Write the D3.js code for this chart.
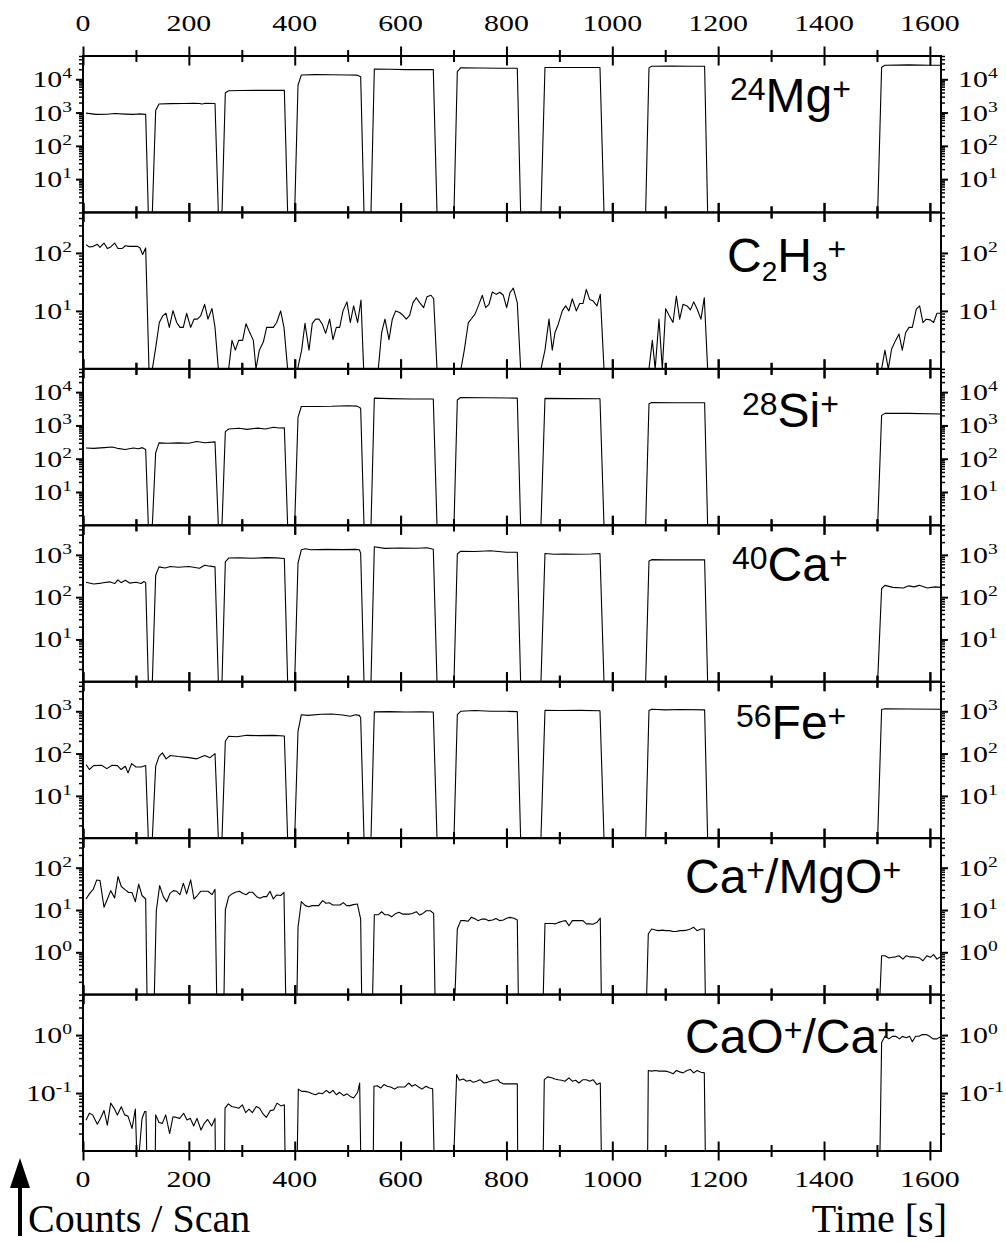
<!DOCTYPE html>
<html lang="en">
<head>
<meta charset="UTF-8">
<title>Counts / Scan vs Time</title>
<script src="https://d3js.org/d3.v7.min.js"></script>
<style>
  body { margin: 0; background: #fff; }
  svg { display: block; }
  .tick-label { font-family: "Liberation Serif", "Times New Roman", serif; font-size: 23px; fill: #000; }
  .species { font-family: "Liberation Sans", Arial, sans-serif; font-size: 48px; fill: #000; }
  .axis-title { font-family: "Liberation Serif", "Times New Roman", serif; font-size: 40px; fill: #000; }
  .axis path { display: none; }
  .axis line { stroke: #000; }
</style>
</head>
<body>
<svg id="chart" width="1006" height="1242"></svg>
<script>
// ---- data: [time s, counts per scan]; 0 = below the axis range ----
const mg24 = [[5.7,960],[25,880],[45,890],[60,940],[80,900],[95,880],[105,910],[118.4,880],[123.4,0],
  [131,0],[137.3,1150],[143.6,1800],[165,1850],[190,1870],[210,1900],[220,1880],[225,1800],[232,1900],[249.4,1880],[255.7,0],
  [262.6,0],[268.9,3950],[275.2,4500],[300,4600],[330,4650],[360,4650],[380.4,4650],[386.6,0],
  [399.9,0],[406.2,6600],[412.5,13500],[440,13800],[470,13700],[500,13500],[518,13300],[524.6,12000],[530.9,0],
  [544.1,0],[550.4,20200],[580,20000],[610,19500],[640,19500],[661.8,19500],[668.8,0],
  [700.9,0],[707.2,17000],[713.5,22000],[750,21800],[790,21500],[820.5,21500],[826.8,0],
  [865.2,0],[872.8,22500],[900,22500],[940,22500],[976.7,22500],[984.3,0],
  [1063,0],[1069.3,22000],[1074.3,24500],[1110,24800],[1150,24500],[1174.4,24500],[1180.1,0],
  [1501.3,0],[1508.8,23000],[1515.1,26500],[1560,27000],[1600,26500],[1620,26500]];

const c2h3 = [[5.7,139],[12,127],[19.5,130],[27.1,141],[32.1,125],[39.7,148],[46,119],[52.3,127],[59.8,148],[66.1,119],[73.7,119],[80,133],[87.5,130],[95.1,130],[102.6,130],[107.7,122],[112.7,94],[118.4,122],[124.7,0],
  [131,0],[137.9,2.5],[144.2,6.3],[150.5,8.2],[156.8,9.1],[163.1,5.2],[170,10.1],[177,6.3],[183.2,5.2],[189.5,5.2],[195.8,9.1],[203.4,5.2],[209.7,7.2],[216,7.2],[222.3,8.2],[229.8,13],[236.1,7.2],[243.7,11],[249.4,5.2],[255.7,0],
  [275.2,0],[281.5,3.1],[287.8,2.1],[294.1,3.1],[301.6,3.1],[307.9,6.0],[314.2,4.4],[321.8,3.1],[326.8,0],[333.1,2.1],[340.7,2.9],[347,5.2],[353.3,5.2],[359.6,5.2],[365.9,6.3],[373.4,10],[379.7,5.2],[386.6,0],
  [405.5,0],[413.1,2.1],[419.4,6.1],[427,2.1],[433.2,6.1],[439.5,7.2],[445.8,7.2],[452.1,5.9],[458.4,4.1],[466,7.2],[472.3,3.2],[478.6,5.2],[484.9,5.2],[491.2,10],[498.7,14.3],[505,6.3],[511.3,12.2],[518.9,6.3],[525.2,15.4],[530.2,0],
  [557.9,0],[564.2,4.2],[570.5,7.2],[578.1,3.2],[584.4,7.2],[590.7,10],[598.2,9.4],[604.5,8.4],[610.8,7.2],[617.1,8.4],[623.4,13.9],[629.7,16.9],[636,13.9],[643.6,11.4],[649.9,17.6],[657.4,18.6],[662.5,16.2],[668.8,0],
  [714.1,0],[720.4,2.1],[728,6.3],[734.3,7.4],[740.6,8.8],[746.9,12.2],[754.4,18.6],[760.7,11.4],[767,13],[773.3,21.2],[780.9,19.3],[787.8,21],[794.1,18.6],[800.4,11.4],[806.7,20.6],[813,24.7],[820.5,13.9],[826.8,0],
  [865.2,0],[872.8,2.1],[880.4,7.2],[886.6,2.1],[891.6,4.2],[897.9,5.9],[905.5,10],[911.8,12.2],[918.1,10],[924.4,16.2],[932,10],[938.3,13.4],[944.6,13.4],[950.9,23.5],[957.2,15.8],[963.5,14.9],[971,12.2],[977.3,19.3],[984.3,0],
  [1069.3,0],[1075.6,3.1],[1081,0],[1088.2,7.2],[1094.5,0],[1100.8,10.9],[1107.1,8.4],[1114.7,6.3],[1121,18.1],[1127.3,7.2],[1133.6,13],[1141.2,12.2],[1147.5,10.4],[1153.8,14.3],[1160.1,10.9],[1167.5,7.2],[1173.8,16.9],[1180.1,0],
  [1508.8,0],[1515.1,2.1],[1521.4,0],[1527.7,2.2],[1535.3,3.1],[1541.6,4.0],[1547.9,2.1],[1554.2,4.2],[1560.5,5.2],[1566.8,5.2],[1574.3,10.7],[1580.6,12.2],[1586.9,6.3],[1593.2,7.2],[1600.8,7.0],[1607,6.3],[1613.4,9.1],[1619.6,9.1]];

const si28 = [[5.7,210],[20,205],[40,215],[55,225],[65,205],[80,190],[95,210],[105,200],[112,215],[118.4,190],[123.4,0],
  [131,0],[137.3,150],[143.6,300],[160,290],[180,300],[200,290],[215,330],[230,300],[249.4,320],[255.7,0],
  [262.6,0],[268.9,650],[275.2,780],[295,820],[310,760],[330,830],[345,780],[360,880],[370,840],[380.4,850],[386.6,0],
  [399.9,0],[406.2,1750],[412.5,3700],[440,3700],[470,3750],[500,3900],[518,3800],[524.6,3300],[530.9,0],
  [544.1,0],[550.4,6600],[580,6400],[620,6200],[661.8,6200],[668.8,0],
  [700.9,0],[707.2,5800],[713.5,6900],[760,6800],[820.5,6600],[826.8,0],
  [865.2,0],[872.8,6500],[920,6400],[976.7,6300],[984.3,0],
  [1063,0],[1069.3,4500],[1074.3,4900],[1120,4800],[1174.4,4800],[1180.1,0],
  [1501.3,0],[1508.8,2000],[1515.1,2300],[1560,2300],[1620,2200]];

const ca40 = [[5.7,225],[20,205],[35,215],[50,230],[60,210],[66,255],[72,220],[80,250],[88,215],[100,225],[110,210],[115,235],[118.4,220],[123.4,0],
  [131,0],[137.3,330],[143.6,520],[155,490],[165,530],[180,510],[200,530],[220,480],[230,570],[240,540],[249.4,520],[255.7,0],
  [262.6,0],[268.9,680],[275.2,840],[295,850],[320,830],[345,860],[365,850],[380.4,820],[386.6,0],
  [399.9,0],[406.2,640],[412.5,1320],[420,1400],[430,1320],[460,1350],[490,1330],[515,1350],[522,1320],[524.6,1100],[530.9,0],
  [544.1,0],[550.4,1560],[570,1420],[600,1450],[630,1430],[650,1470],[661.8,1350],[668.8,0],
  [700.9,0],[707.2,1050],[713.5,1220],[740,1200],[770,1250],[800,1150],[820.5,1150],[826.8,0],
  [865.2,0],[872.8,1080],[890,1030],[910,1050],[930,1030],[960,1050],[976.7,1080],[984.3,0],
  [1063,0],[1069.3,720],[1074.3,770],[1100,760],[1130,760],[1174.4,760],[1180.1,0],
  [1501.3,0],[1508.8,160],[1515.1,190],[1530,170],[1550,165],[1560,185],[1570,175],[1580,190],[1595,165],[1610,175],[1620,170]];

const fe56 = [[5.7,55],[12,42],[20,52],[35,53],[45,44],[55,53],[65,52],[72,42],[80,50],[85,35],[92,58],[100,48],[110,48],[118.4,52],[123.4,0],
  [131,0],[137.3,50],[143.6,86],[150,104],[157,75],[165,90],[180,85],[200,80],[215,75],[230,90],[240,80],[249.4,100],[255.7,0],
  [262.6,0],[268.9,195],[275.2,256],[290,250],[310,270],[330,265],[360,270],[380.4,260],[386.6,0],
  [399.9,0],[406.2,336],[412.5,830],[425,800],[450,850],[470,860],[490,820],[505,760],[515,830],[522,800],[524.6,700],[530.9,0],
  [544.1,0],[550.4,970],[580,980],[610,960],[640,970],[661.8,960],[668.8,0],
  [700.9,0],[707.2,830],[713.5,1000],[740,1040],[770,1000],[800,1000],[820.5,980],[826.8,0],
  [865.2,0],[872.8,1050],[900,1040],[940,1050],[976.7,1030],[984.3,0],
  [1063,0],[1069.3,1050],[1074.3,1120],[1100,1080],[1130,1100],[1174.4,1080],[1180.1,0],
  [1501.3,0],[1508.8,1100],[1515.1,1150],[1560,1130],[1620,1120]];

const caMgO = [[5.7,18.2],[12,24],[19.5,31],[25.8,51],[32.1,50],[39.7,11.6],[46,18],[52.3,28.7],[59.8,19.3],[66.1,62],[72.4,36],[80,30],[86.3,26],[92.6,26],[98.9,15.8],[105.2,41],[111.5,22],[118.4,18.2],[120.9,0],
  [134.8,0],[138.5,9.6],[144.8,37.8],[151.8,20.7],[158.1,15.7],[164.4,24.8],[170.7,28.7],[177,27.7],[183.2,23.1],[189.5,43],[195.8,24],[203.4,51.5],[209.7,18.2],[216,22],[222.3,27.7],[229.8,27.7],[236.1,27.7],[243.7,23],[249.4,31],[252.5,0],
  [266.4,0],[268.9,10],[275.2,20.7],[281.5,24],[287.8,26.2],[295.3,27.7],[301.6,24.8],[307.9,23],[314.2,26.2],[320.5,26.2],[328.1,20.7],[334.4,18.9],[340.7,20.7],[347,20.7],[353.3,27.7],[359.6,18.2],[365.9,22.7],[373.4,22],[379.7,26.2],[382.9,0],
  [404.3,0],[406.2,3.9],[412.5,15.8],[420,12.7],[426.3,12],[432.6,12.7],[438.9,12.7],[445.2,12.7],[452.8,16.6],[459.1,14.4],[465.4,14.9],[471.7,13.1],[478,13.1],[485.5,13.1],[491.8,14.9],[498.1,12.7],[504.4,12.7],[510.7,13.4],[518.3,13.9],[524.6,6.1],[526.4,0],
  [547.2,0],[550.4,7.7],[557.9,7.7],[564.2,9.1],[570.5,7.7],[576.8,7.7],[583.1,6.9],[589.4,8],[597,8.8],[603.3,8],[609.6,8],[615.9,8],[622.2,8.3],[629.7,9.1],[636,7.6],[642.3,8.3],[648.6,9.6],[656.2,9.6],[662.5,8.3],[665,0],
  [702.8,0],[707.2,3.55],[713.5,5.6],[721,5.6],[727.3,5.4],[733.6,6.7],[739.9,6.3],[746.2,5.6],[753.8,6.1],[760.1,6.1],[766.4,5.6],[773.9,5.8],[780.2,6.3],[787.8,5.6],[794.1,5.8],[800.4,6.4],[806.7,6.7],[814.2,6.4],[820.5,5.8],[822.4,0],
  [869.6,0],[872.8,4.8],[880.4,4.8],[886.6,4.8],[892.9,4.7],[899.2,5.1],[905.5,5.4],[911.8,5.6],[918.1,4.25],[924.4,5.6],[932,5.6],[938.3,5.6],[944.6,5.6],[950.9,4.7],[957.2,4.7],[963.5,4.6],[971,5.1],[977.3,6.4],[979.2,0],
  [1064.9,0],[1068,2.7],[1074.3,3.55],[1081.9,3.35],[1088.2,3.25],[1094.5,3.35],[1100.8,3.25],[1108.4,3.25],[1114.7,3.1],[1121,3.1],[1127.3,3.25],[1133.6,3.25],[1141.2,3.35],[1147.5,3.55],[1153.8,3.9],[1160.1,3.25],[1167.5,3.55],[1173.8,3.55],[1175.7,0],
  [1505.7,0],[1508.8,0.83],[1515.1,0.83],[1522.7,0.73],[1529,0.76],[1535.3,0.78],[1541.6,0.83],[1549.1,0.69],[1555.4,0.83],[1561.7,0.78],[1568,0.78],[1574.3,0.76],[1580.6,0.73],[1586.9,0.63],[1594.5,0.83],[1600.8,0.76],[1607,0.88],[1613.4,0.69],[1619.6,0.78]];

const caoCa = [[5.7,0.034],[12,0.045],[18.3,0.042],[27.1,0.029],[33.4,0.037],[39.7,0.05],[46,0.028],[52.3,0.067],[58.6,0.055],[64.9,0.042],[72.4,0.058],[78.7,0.042],[85,0.04],[92.6,0.0245],[98.9,0.053],[101.4,0],[106.4,0],[111.5,0.036],[116.5,0.048],[119,0.048],[120.3,0],
  [136.6,0],[137.3,0.042],[143.6,0.031],[149.9,0.03],[156.2,0.042],[163.7,0.02],[170,0.039],[176.3,0.038],[182.6,0.0366],[190.2,0.0448],[196.5,0.0343],[202.8,0.0366],[209.1,0.027],[215.4,0.0366],[222.9,0.023],[229.2,0.03],[235.5,0.035],[243.1,0.027],[249.4,0.0366],[250,0],
  [267.6,0],[268.3,0.0548],[274.6,0.065],[280.9,0.0585],[287.2,0.057],[294.7,0.0548],[301,0.0626],[307.3,0.046],[313.6,0.0526],[319.9,0.046],[327.5,0.0585],[333.8,0.0548],[340.1,0.0436],[346.3,0.038],[353.9,0.0498],[360.2,0.0512],[366.5,0.067],[374.1,0.06],[380.4,0.0626],[381.6,0],
  [404.9,0],[406.8,0.117],[413.1,0.107],[419.4,0.107],[427,0.103],[433.2,0.097],[439.5,0.0935],[445.8,0.1],[452.1,0.097],[459.7,0.111],[466,0.1],[472.3,0.111],[478.6,0.0935],[484.9,0.103],[492.4,0.09],[498.7,0.097],[505,0.0875],[511.3,0.082],[518.9,0.103],[522.7,0.149],[524.6,0],
  [548.5,0],[549.7,0.131],[556,0.134],[562.3,0.122],[568.6,0.14],[574.9,0.131],[581.2,0.127],[588.8,0.117],[595.1,0.127],[601.4,0.127],[607.7,0.127],[615.2,0.149],[621.5,0.131],[627.8,0.14],[634.1,0.127],[640.4,0.117],[648,0.131],[654.3,0.122],[660.6,0.119],[663.1,0],
  [700.9,0],[705.9,0.209],[710.9,0.166],[718.5,0.175],[724.8,0.16],[731.1,0.166],[737.4,0.153],[743.7,0.16],[750,0.17],[757.6,0.149],[763.9,0.153],[770.2,0.16],[776.4,0.166],[784,0.17],[787.8,0.153],[794.1,0.144],[800.4,0.144],[806.7,0.144],[814.2,0.144],[820.5,0.144],[821.2,0],
  [869.6,0],[871.5,0.17],[877.8,0.19],[885.4,0.183],[891.6,0.175],[897.9,0.17],[904.2,0.166],[910.5,0.16],[918.1,0.183],[924.4,0.16],[930.7,0.166],[937,0.149],[944.6,0.17],[950.9,0.17],[957.2,0.16],[963.5,0.17],[971,0.14],[977.3,0.149],[979.2,0],
  [1066.8,0],[1068,0.245],[1074.3,0.239],[1081.9,0.245],[1088.2,0.239],[1094.5,0.239],[1100.8,0.239],[1108.4,0.229],[1114.7,0.215],[1121,0.245],[1127.3,0.232],[1133.6,0.223],[1141.2,0.245],[1147.5,0.255],[1153.8,0.223],[1160.1,0.245],[1167.5,0.229],[1173.8,0.223],[1175.7,0],
  [1505.7,0],[1508.8,0.745],[1515.1,0.955],[1522.7,0.86],[1529,0.95],[1535.3,0.955],[1542.8,0.86],[1547.9,0.95],[1555.4,0.9],[1561.7,0.955],[1566.8,0.77],[1573,0.955],[1579.3,0.955],[1585.6,1.02],[1593.2,1.02],[1599.5,0.955],[1605.8,0.86],[1613.4,0.86],[1619.6,0.93]];

const series = [mg24, c2h3, si28, ca40, fe56, caMgO, caoCa];
const yDomains = [[1, 5e4], [1, 500], [1, 5e4], [1, 5000], [1, 5000], [0.1, 500], [0.01, 5]];
// species labels: [text, "n" | "sup" | "sub"]
const speciesLabels = [
  [["24","sup"],["Mg","n"],["+","sup"]],
  [["C","n"],["2","sub"],["H","n"],["3","sub"],["+","sup"]],
  [["28","sup"],["Si","n"],["+","sup"]],
  [["40","sup"],["Ca","n"],["+","sup"]],
  [["56","sup"],["Fe","n"],["+","sup"]],
  [["Ca","n"],["+","sup"],["/MgO","n"],["+","sup"]],
  [["CaO","n"],["+","sup"],["/Ca","n"],["+","sup"]]
];
const timeTicks = [0, 200, 400, 600, 800, 1000, 1200, 1400, 1600];
const timeMinorTicks = [100, 300, 500, 700, 900, 1100, 1300, 1500];
const xTitle = "Time [s]";
const yTitle = "Counts / Scan";

// ---- layout ----
const svg = d3.select("#chart");
const plotL = 83, plotR = 941, plotT = 56, panelH = 156.43;
const labelX = [730, 727, 742, 732, 736, 685, 685];
const labelBase = [56, 60, 58, 56, 57, 55, 58];
const stretch = 1.3;

const x = d3.scaleLinear().domain([0, 1621]).range([plotL, plotR]);

svg.append("defs").append("clipPath").attr("id", "plotclip")
  .append("rect").attr("x", plotL).attr("y", plotT).attr("width", plotR - plotL).attr("height", panelH * 7);

function tenLabel(g, tx, ty, exp, anchor) {
  const grp = g.append("g").attr("transform", `translate(${tx},${ty}) scale(${stretch},1)`);
  const t = grp.append("text").attr("class", "tick-label").attr("text-anchor", anchor);
  t.append("tspan").text("10");
  t.append("tspan").attr("font-size", 15).attr("dy", -9).text(exp);
}

series.forEach((data, i) => {
  const y0 = plotT + i * panelH, y1 = y0 + panelH;
  const y = d3.scaleLog().domain(yDomains[i]).range([y1, y0]).clamp(true);
  const g = svg.append("g");

  // log ticks
  const lo = Math.round(Math.log10(yDomains[i][0])), hi = Math.ceil(Math.log10(yDomains[i][1]));
  const majors = [], minors = [];
  for (let k = lo; k < hi; k++) {
    const p = Math.pow(10, k);
    if (k > lo) majors.push(p);
    for (let m = 2; m <= 9; m++) if (m * p <= yDomains[i][1] * 1.0001) minors.push(m * p);
  }

  g.append("g").attr("class", "axis").attr("transform", `translate(${plotL},0)`)
    .call(d3.axisLeft(y).tickValues(majors).tickSize(7).tickFormat(""))
    .selectAll("line").attr("stroke-width", 2);
  g.append("g").attr("class", "axis").attr("transform", `translate(${plotL},0)`)
    .call(d3.axisLeft(y).tickValues(minors).tickSize(4).tickFormat(""))
    .selectAll("line").attr("stroke-width", 1.5);
  g.append("g").attr("class", "axis").attr("transform", `translate(${plotR},0)`)
    .call(d3.axisRight(y).tickValues(majors).tickSize(7).tickFormat(""))
    .selectAll("line").attr("stroke-width", 2);
  g.append("g").attr("class", "axis").attr("transform", `translate(${plotR},0)`)
    .call(d3.axisRight(y).tickValues(minors).tickSize(4).tickFormat(""))
    .selectAll("line").attr("stroke-width", 1.5);

  majors.forEach(v => {
    const e = String(Math.round(Math.log10(v)));
    tenLabel(g, plotL - 11, y(v) + 8, e, "end");
    tenLabel(g, plotR + 17, y(v) + 8, e, "start");
  });

  // time ticks crossing each panel border
  [y0, y1].forEach(yy => {
    [d3.axisTop, d3.axisBottom].forEach(ax => {
      g.append("g").attr("class", "axis").attr("transform", `translate(0,${yy})`)
        .call(ax(x).tickValues(timeTicks).tickSize(9.5).tickFormat(""))
        .selectAll("line").attr("stroke-width", 2);
      g.append("g").attr("class", "axis").attr("transform", `translate(0,${yy})`)
        .call(ax(x).tickValues(timeMinorTicks).tickSize(6).tickFormat(""))
        .selectAll("line").attr("stroke-width", 2);
    });
  });

  // frame
  g.append("rect").attr("x", plotL).attr("y", y0).attr("width", plotR - plotL).attr("height", panelH)
    .attr("fill", "none").attr("stroke", "#000").attr("stroke-width", 2);

  // data
  const line = d3.line()
    .x(d => x(d[0]))
    .y(d => d[1] > 0 ? y(d[1]) : y1);
  g.append("path").datum(data).attr("clip-path", "url(#plotclip)")
    .attr("d", line).attr("fill", "none").attr("stroke", "#000").attr("stroke-width", 1.1)
    .attr("stroke-linejoin", "round");

  // species label
  const t = g.append("text").attr("class", "species").attr("x", labelX[i]).attr("y", y0 + labelBase[i]);
  let cur = 0;
  speciesLabels[i].forEach(([txt, kind]) => {
    const target = kind === "sup" ? -12 : kind === "sub" ? 9 : 0;
    const ts = t.append("tspan").attr("dy", target - cur).text(txt);
    if (kind === "sup") ts.attr("font-size", 32);
    if (kind === "sub") ts.attr("font-size", 28);
    cur = target;
  });
});

// top and bottom time labels
timeTicks.forEach(v => {
  [31, 1187].forEach(ty => {
    svg.append("g").attr("transform", `translate(${x(v)},${ty}) scale(${stretch},1)`)
      .append("text").attr("class", "tick-label").attr("text-anchor", "middle").text(v);
  });
});

// axis titles
svg.append("text").attr("class", "axis-title").attr("x", 28).attr("y", 1232).text(yTitle);
svg.append("text").attr("class", "axis-title").attr("x", 947).attr("y", 1232)
  .attr("text-anchor", "end").text(xTitle);

// arrow
svg.append("line").attr("x1", 20).attr("x2", 20).attr("y1", 1236).attr("y2", 1184)
  .attr("stroke", "#000").attr("stroke-width", 4);
svg.append("path").attr("d", "M10,1188 L30,1188 L20,1158 Z").attr("fill", "#000");
</script>
</body>
</html>
